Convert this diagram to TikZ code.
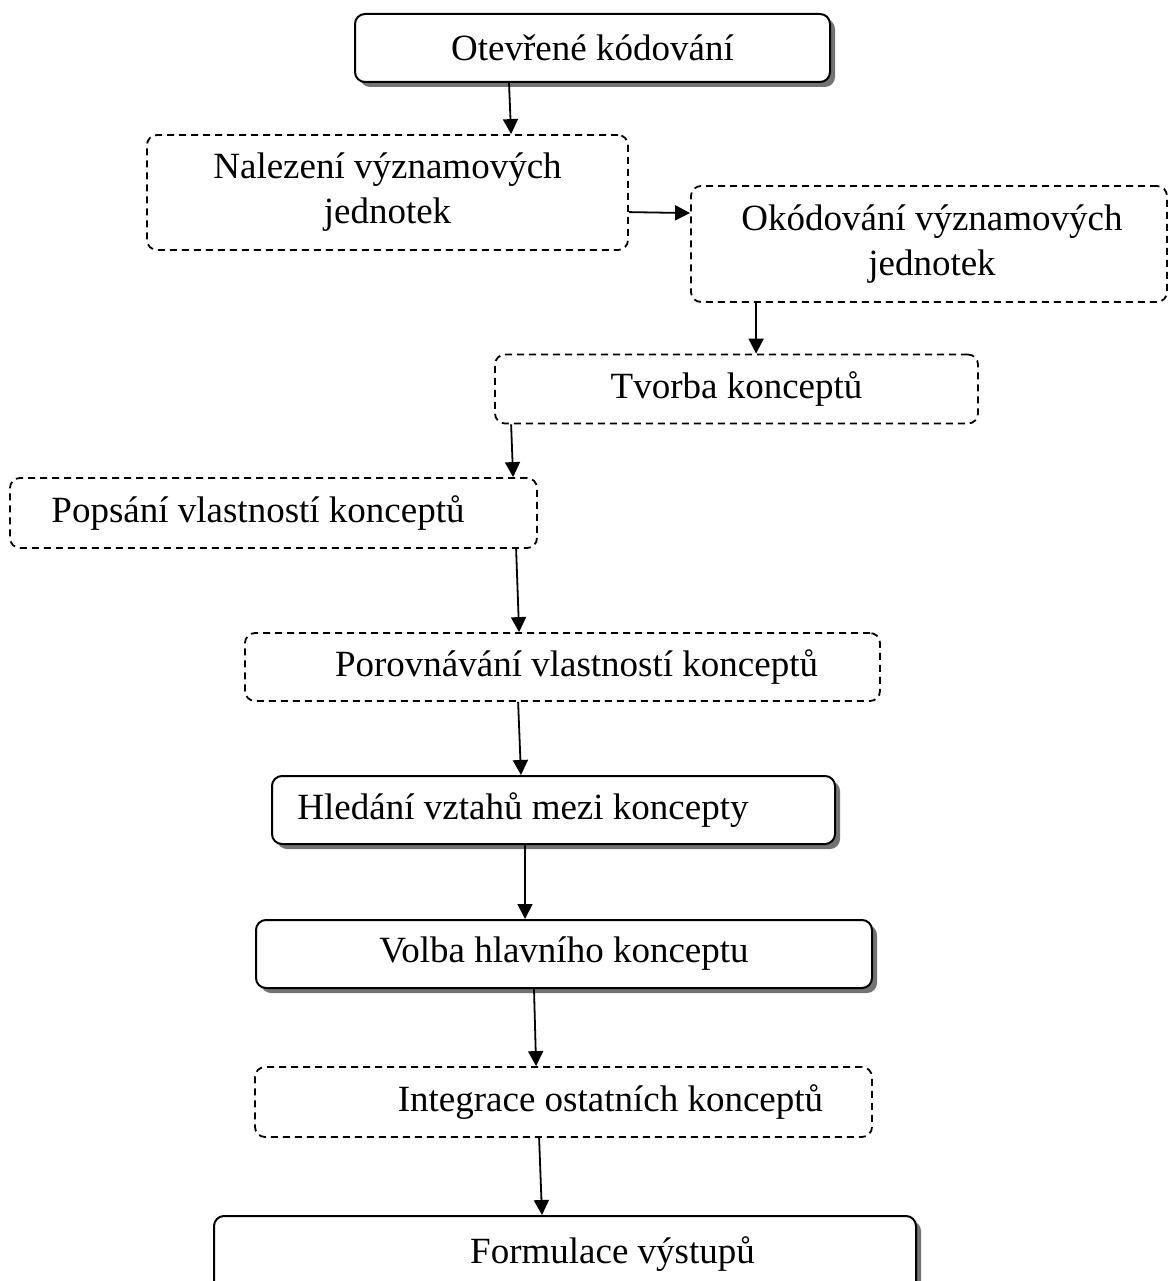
\documentclass[tikz,border=0pt]{standalone}
\usepackage{fontspec}
\setmainfont{Liberation Serif}
\usetikzlibrary{arrows.meta,calc,shadows}

\tikzset{
  box/.style={rectangle, rounded corners=10pt, inner sep=0pt, align=center,
    font=\fontsize{37}{45}\selectfont},
  solidbox/.style={box, draw, line width=2pt, fill=white,
    drop shadow={shadow xshift=5pt, shadow yshift=-5pt, fill=black!55, opacity=1}},
  dashbox/.style={box, draw, line width=1.8pt, dash pattern=on 7pt off 5pt},
  flow/.style={line width=1.8pt, -{Triangle[length=15pt,width=15pt]}}
}

\begin{document}
\begin{tikzpicture}[x=1pt, y=-1pt]
  \useasboundingbox (0,0) rectangle (1169,1281);

  % process steps
  \node[solidbox, minimum width=475pt, minimum height=68pt] (open) at (592.5,48)
    {Otevřené kódování};
  \node[dashbox, minimum width=481pt, minimum height=115pt] (find) at (387.5,192.5)
    {Nalezení významových\\jednotek};
  \node[dashbox, minimum width=476pt, minimum height=116pt] (code) at (929,244)
    {\hspace*{6pt}Okódování významových\\\hspace*{6pt}jednotek};
  \node[dashbox, minimum width=483pt, minimum height=69pt] (make) at (736.5,389)
    {Tvorba konceptů};
  \node[dashbox, minimum width=527pt, minimum height=70pt] (desc) at (273.5,513)
    {Popsání vlastností konceptů\hspace*{31pt}};
  \node[dashbox, minimum width=635pt, minimum height=68pt] (comp) at (562.5,667)
    {\hspace*{28pt}Porovnávání vlastností konceptů};
  \node[solidbox, minimum width=563pt, minimum height=68pt] (rel) at (553.5,810)
    {Hledání vztahů mezi koncepty\hspace*{61pt}};
  \node[solidbox, minimum width=616pt, minimum height=68pt] (main) at (564,954)
    {Volba hlavního konceptu};
  \node[dashbox, minimum width=617pt, minimum height=70pt] (integ) at (563.5,1102)
    {\hspace*{94pt}Integrace ostatních konceptů};
  \node[solidbox, minimum width=702pt, minimum height=76pt] (out) at (565,1254)
    {\hspace*{95pt}Formulace výstupů};

  % connectors
  \draw[flow] ($(open.south west)+(155,0)$) -- ($(find.north west)+(365,0)$);
  \draw[flow] ($(find.north east)+(0,78)$) -- ($(code.north west)+(0,28)$);
  \draw[flow] ($(code.south west)+(66,0)$) -- ($(make.north west)+(262,0)$);
  \draw[flow] ($(make.south west)+(17,0)$) -- ($(desc.north west)+(504,0)$);
  \draw[flow] ($(desc.south west)+(507,0)$) -- ($(comp.north west)+(275,0)$);
  \draw[flow] ($(comp.south west)+(274,0)$) -- ($(rel.north west)+(250,0)$);
  \draw[flow] ($(rel.south west)+(254,0)$) -- ($(main.north west)+(270,0)$);
  \draw[flow] ($(main.south west)+(279,0)$) -- ($(integ.north west)+(282,0)$);
  \draw[flow] ($(integ.south west)+(285,0)$) -- ($(out.north west)+(329,0)$);
\end{tikzpicture}
\end{document}
